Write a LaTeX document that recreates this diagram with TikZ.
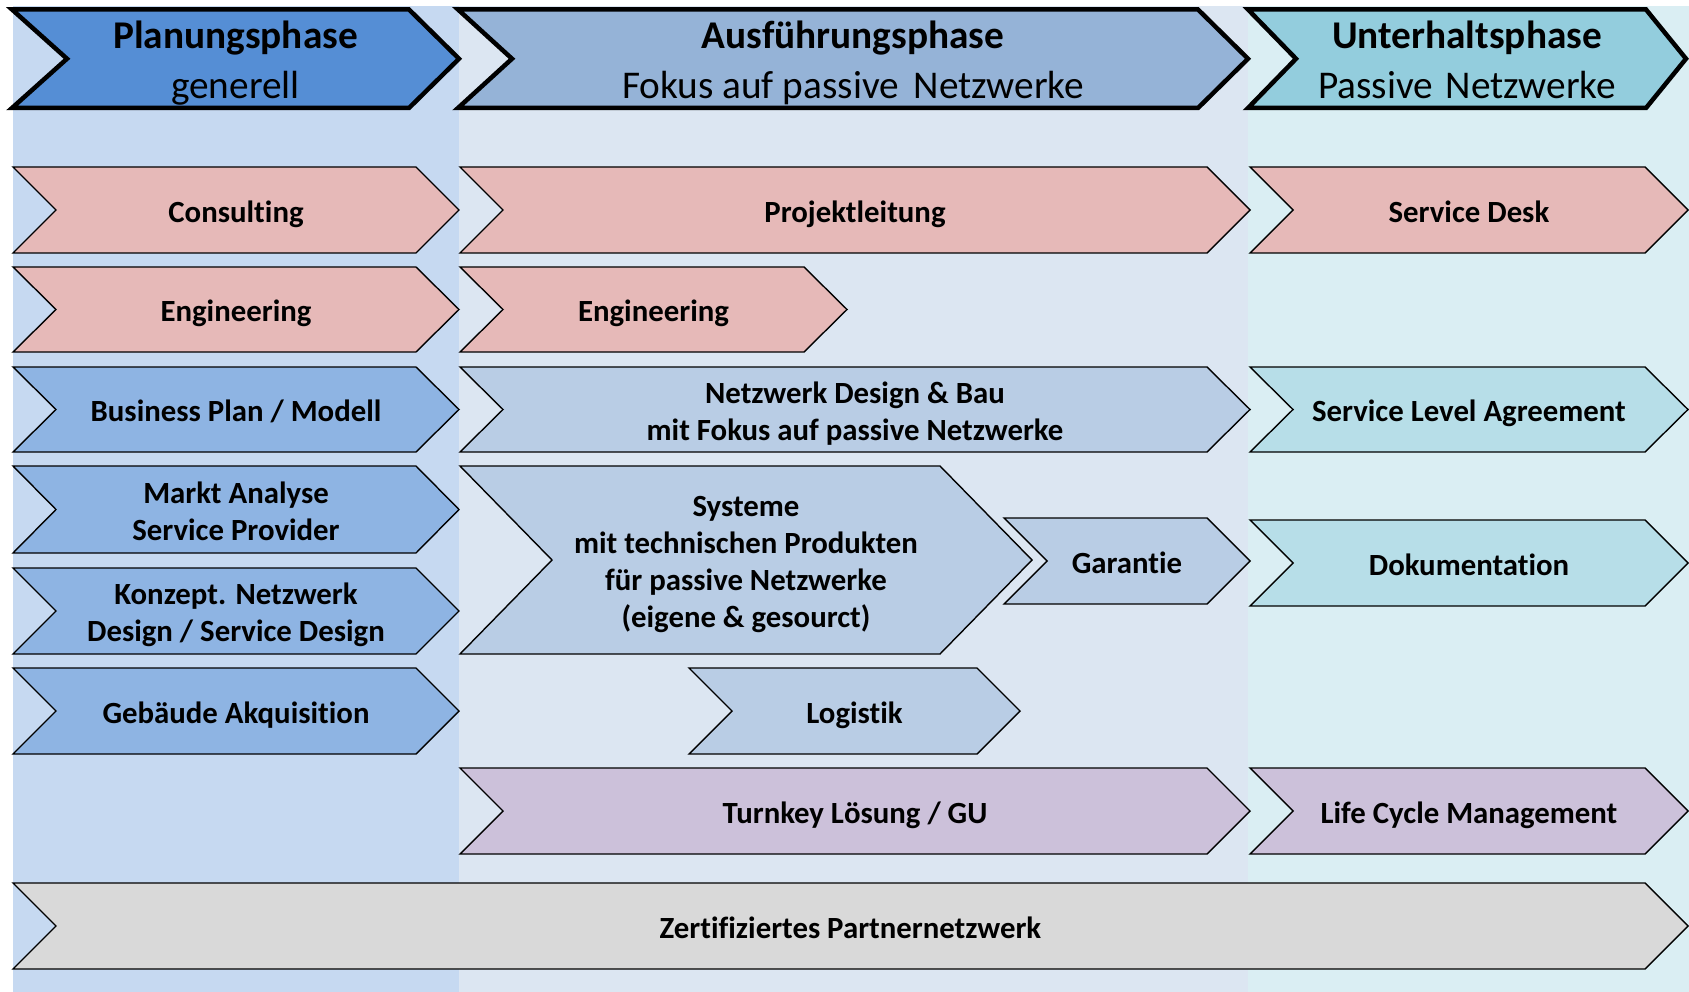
\documentclass[tikz,border=0pt]{standalone}
\usepackage{fontspec}
\setmainfont{Carlito}[Ligatures=NoCommon]
\definecolor{bgA}{HTML}{C6D9F1}
\definecolor{bgB}{HTML}{DCE6F2}
\definecolor{bgC}{HTML}{DAEEF3}
\definecolor{hdA}{HTML}{558ED5}
\definecolor{hdB}{HTML}{95B3D7}
\definecolor{hdC}{HTML}{93CDDD}
\definecolor{pinkc}{HTML}{E6B9B8}
\definecolor{blueA}{HTML}{8EB4E3}
\definecolor{blueB}{HTML}{B9CDE5}
\definecolor{aquaC}{HTML}{B7DEE8}
\definecolor{purpc}{HTML}{CCC1DA}
\definecolor{grayc}{HTML}{D9D9D9}
\tikzset{
  chevbox/.style={draw=black, line width=1.4pt, line join=miter},
  headbox/.style={draw=black, line width=4.5pt, line join=miter},
  lbl/.style={font=\fontsize{30.8}{37}\selectfont\bfseries, align=center, inner sep=0pt, yshift=-5pt},
  hlbl/.style={font=\fontsize{39.3}{50}\selectfont, align=center, inner sep=0pt, yshift=-4.5pt},
}
% #1 name, #2 x1, #3 x2, #4 y1, #5 y2, #6 notch depth, #7 tip depth, #8 style, #9 text
\newcommand\chevron[9]{%
  \path[#8] (#2,#4) -- ({#3-#7},#4) -- (#3,{(#4+#5)/2}) -- ({#3-#7},#5) -- (#2,#5) -- ({#2+#6},{(#4+#5)/2}) -- cycle;
  \node[lbl] (#1) at ({(#2+#3)/2},{(#4+#5)/2}) {\strut #9\strut};
}
\newcommand\headchevron[9]{%
  \path[#8] (#2,#4) -- ({#3-#7},#4) -- (#3,{(#4+#5)/2}) -- ({#3-#7},#5) -- (#2,#5) -- ({#2+#6},{(#4+#5)/2}) -- cycle;
  \node[hlbl] (#1) at ({(#2+#3)/2},{(#4+#5)/2}) {\strut #9\strut};
}
\begin{document}
\begin{tikzpicture}[x=1pt,y=-1pt]
\useasboundingbox (0,0) rectangle (1689,992);
\fill[white] (0,0) rectangle (1689,992);
% column backgrounds
\fill[bgA] (13,6) rectangle (459,992);
\fill[bgB] (459,6) rectangle (1248,992);
\fill[bgC] (1248,6) rectangle (1689,992);
% headers
\headchevron{h1}{12}{459}{9.5}{108}{55}{50}{headbox,fill=hdA}{\textbf{Planungsphase}\\generell}
\headchevron{h2}{458}{1248}{9.5}{108}{54}{50}{headbox,fill=hdB}{\textbf{Ausführungsphase}\\Fokus auf passive\hspace{0.15em} Netzwerke}
\headchevron{h3}{1248}{1686}{9.5}{108}{48}{40}{headbox,fill=hdC}{\textbf{Unterhaltsphase}\\Passive\hspace{0.1em} Netzwerke}
% row 1
\chevron{consulting}{13}{459}{167}{253}{43}{43}{chevbox,fill=pinkc}{Consulting}
\chevron{projekt}{460}{1250}{167}{253}{43}{43}{chevbox,fill=pinkc}{Projektleitung}
\chevron{servicedesk}{1250}{1688}{167}{253}{43}{43}{chevbox,fill=pinkc}{Service Desk}
% row 2
\chevron{engA}{13}{459}{267}{352}{43}{43}{chevbox,fill=pinkc}{Engineering}
\chevron{engB}{460}{847}{267}{352}{43}{43}{chevbox,fill=pinkc}{Engineering}
% row 3
\chevron{business}{13}{459}{367}{452}{43}{43}{chevbox,fill=blueA}{Business Plan / Modell}
\chevron{netzwerk}{460}{1250}{367}{452}{43}{43}{chevbox,fill=blueB}{Netzwerk Design \& Bau\\mit Fokus auf passive Netzwerke}
\chevron{sla}{1250}{1688}{367}{452}{43}{43}{chevbox,fill=aquaC}{Service Level Agreement}
% row 4/5
\chevron{markt}{13}{459}{466}{553}{43}{43}{chevbox,fill=blueA}{Markt Analyse\\Service Provider}
\chevron{konzept}{13}{459}{568}{654}{43}{43}{chevbox,fill=blueA}{Konzept. Netzwerk\\Design / Service Design}
\chevron{systeme}{460}{1032}{466}{654}{92}{92}{chevbox,fill=blueB}{Systeme\\mit technischen Produkten\\für passive Netzwerke\\(eigene \& gesourct)}
\chevron{garantie}{1004}{1250}{518}{604}{43}{43}{chevbox,fill=blueB}{Garantie}
\chevron{doku}{1250}{1688}{520}{606}{43}{43}{chevbox,fill=aquaC}{Dokumentation}
% row 6
\chevron{gebaeude}{13}{459}{668}{754}{43}{43}{chevbox,fill=blueA}{Gebäude Akquisition}
\chevron{logistik}{689}{1020}{668}{754}{43}{43}{chevbox,fill=blueB}{Logistik}
% row 7
\chevron{turnkey}{460}{1250}{768}{854}{43}{43}{chevbox,fill=purpc}{Turnkey Lösung / GU}
\chevron{lifecycle}{1250}{1688}{768}{854}{43}{43}{chevbox,fill=purpc}{Life Cycle Management}
% row 8
\chevron{partner}{13}{1688}{883}{969}{43}{43}{chevbox,fill=grayc}{Zertifiziertes Partnernetzwerk}
\end{tikzpicture}
\end{document}
